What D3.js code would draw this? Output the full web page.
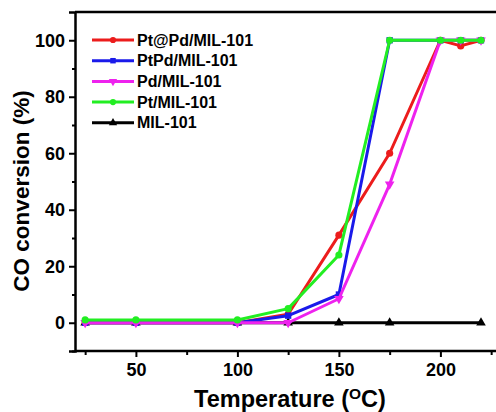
<!DOCTYPE html>
<html>
<head>
<meta charset="utf-8">
<script src="https://cdn.jsdelivr.net/npm/d3@7"></script>
<style>
  body { margin: 0; background: #fff; }
  text { font-family: "Liberation Sans", Arial, sans-serif; font-weight: bold; }
</style>
</head>
<body>
<svg id="chart"></svg>
<script>
// data
const temps = [25, 50, 100, 125, 150, 175, 200, 210, 220];
const ptPd_core = [0, 0, 0, 3, 31, 60, 100, 98, 100];     // Pt@Pd/MIL-101
const ptPd_alloy = [0, 0, 0, 2.5, 10, 100, 100, 100, 100]; // PtPd/MIL-101
const pd_only = [0, 0, 0, 0, 8.5, 49, 100, 100, 100];      // Pd/MIL-101
const pt_only = [1, 1, 1, 5, 24, 100, 100, 100, 100];      // Pt/MIL-101
const mil_temps = [25, 50, 100, 125, 150, 175, 220];
const mil_only = [0, 0, 0, 0, 0, 0, 0];                    // MIL-101
const xTicks = [50, 100, 150, 200];
const yTicks = [0, 20, 40, 60, 80, 100];

const width = 496, height = 412;
const margin = { top: 12, left: 75, bottom: 61 };

let svg = d3.select("#chart").attr("width", width).attr("height", height);

let scaleX = d3.scaleLinear().domain([20, 230]).range([margin.left, margin.left + 210 * 2.03]);
let scaleY = d3.scaleLinear().domain([-10, 110]).range([height - margin.bottom, margin.top]);

// y axis
let yAxis = svg.append("g")
    .attr("transform", "translate(" + margin.left + ",0)")
    .call(d3.axisLeft(scaleY).tickValues(yTicks).tickSize(6).tickPadding(4));
yAxis.select(".domain").attr("stroke-width", 2.5);
yAxis.selectAll(".tick line").attr("stroke-width", 2);
yAxis.selectAll(".tick text").attr("font-size", 18).attr("fill", "#000");
svg.append("g")
    .attr("transform", "translate(" + margin.left + ",0)")
    .call(d3.axisLeft(scaleY).tickValues([-10, 10, 30, 50, 70, 90]).tickSize(3).tickFormat(""))
    .call(g => g.select(".domain").remove())
    .selectAll("line").attr("stroke-width", 2);

// x axis
let xAxis = svg.append("g")
    .attr("transform", "translate(0," + (height - margin.bottom) + ")")
    .call(d3.axisBottom(scaleX).tickValues(xTicks).tickSize(6).tickPadding(6));
xAxis.select(".domain").attr("stroke-width", 2.5).attr("d", "M" + margin.left + ",0H" + width);
xAxis.selectAll(".tick line").attr("stroke-width", 2);
xAxis.selectAll(".tick text").attr("font-size", 18).attr("fill", "#000");
svg.append("g")
    .attr("transform", "translate(0," + (height - margin.bottom) + ")")
    .call(d3.axisBottom(scaleX).tickValues([25, 75, 125, 175, 225]).tickSize(4).tickFormat(""))
    .call(g => g.select(".domain").remove())
    .selectAll("line").attr("stroke-width", 2);

// top frame line
svg.append("line")
    .attr("x1", margin.left).attr("x2", width)
    .attr("y1", scaleY(110)).attr("y2", scaleY(110))
    .attr("stroke", "#000").attr("stroke-width", 2.5);

// axis titles
svg.append("text")
    .attr("transform", "translate(29," + 191 + ") rotate(-90)")
    .attr("text-anchor", "middle")
    .attr("font-size", 22.5)
    .text("CO conversion (%)");

let xt = svg.append("text")
    .attr("x", 290).attr("y", 407)
    .attr("text-anchor", "middle")
    .attr("font-size", 23.5);
xt.append("tspan").text("Temperature (");
xt.append("tspan").attr("font-size", 15.5).attr("dy", -8).text("O");
xt.append("tspan").attr("dy", 8).text("C)");

const series = [
    { name: "MIL-101", x: mil_temps, y: mil_only, color: "#000000", symbol: d3.symbolTriangle, rot: 0 },
    { name: "Pt@Pd/MIL-101", x: temps, y: ptPd_core, color: "#ec1c1c", symbol: d3.symbolCircle, rot: 0 },
    { name: "PtPd/MIL-101", x: temps, y: ptPd_alloy, color: "#1a1aea", symbol: d3.symbolSquare, rot: 0 },
    { name: "Pd/MIL-101", x: temps, y: pd_only, color: "#ee22ee", symbol: d3.symbolTriangle, rot: 180 },
    { name: "Pt/MIL-101", x: temps, y: pt_only, color: "#22ee22", symbol: d3.symbolCircle, rot: 0 }
];

let line = d3.line().x(d => scaleX(d[0])).y(d => scaleY(d[1]));

series.forEach(function (s) {
    let pts = s.x.map((t, i) => [t, s.y[i]]);
    let g = svg.append("g");
    g.append("path")
        .attr("d", line(pts))
        .attr("fill", "none")
        .attr("stroke", s.color)
        .attr("stroke-width", 3)
        .attr("stroke-linejoin", "round");
    g.selectAll("path.pt")
        .data(pts)
        .enter()
        .append("path")
        .attr("class", "pt")
        .attr("d", d3.symbol().type(s.symbol).size(40))
        .attr("transform", d => "translate(" + scaleX(d[0]) + "," + scaleY(d[1]) + ") rotate(" + s.rot + ")")
        .attr("fill", s.color);
});

// legend
const legendOrder = [1, 2, 3, 4, 0];
let legend = svg.append("g")
    .selectAll("g")
    .data(legendOrder)
    .enter()
    .append("g")
    .each(function (k, i) {
        let s = series[k];
        let g = d3.select(this);
        let yy = 40 + i * 20.7;
        g.append("line")
            .attr("x1", 92).attr("x2", 134)
            .attr("y1", yy).attr("y2", yy)
            .attr("stroke", s.color).attr("stroke-width", 3);
        g.append("path")
            .attr("d", d3.symbol().type(s.symbol).size(30))
            .attr("transform", "translate(113," + yy + ") rotate(" + s.rot + ")")
            .attr("fill", s.color);
        g.append("text")
            .attr("x", 137).attr("y", yy + 5.5)
            .attr("font-size", 16)
            .text(s.name);
    });
</script>
</body>
</html>
